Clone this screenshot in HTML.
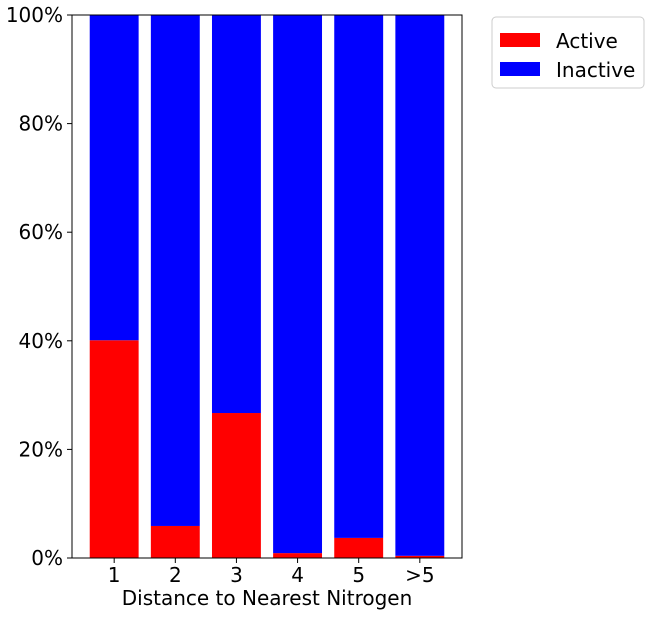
<!DOCTYPE html>
<html><head><meta charset="utf-8"><style>
body{margin:0;background:#fff;}
text{font-family:"DejaVu Sans","Liberation Sans",sans-serif;}
</style></head><body>
<svg id="chart" width="650" height="614" xmlns="http://www.w3.org/2000/svg">
<g id="bars"></g>
<g id="axes"></g>
<g>
<rect x="492" y="17" width="152" height="71" rx="4" fill="#fff" stroke="#ccc"/>
<rect x="500" y="33" width="40" height="14" fill="#ff0000"/>
<text x="556" y="48" font-size="20">Active</text>
<rect x="500" y="62" width="40" height="14" fill="#0000ff"/>
<text x="556" y="77" font-size="20">Inactive</text>
</g>
<text x="267" y="605" font-size="20" text-anchor="middle">Distance to Nearest Nitrogen</text>
</svg>
<script>
const categories=["1","2","3","4","5",">5"];
const activePct=[40.1,5.9,26.7,0.9,3.7,0.4];
const yTicks=[0,20,40,60,80,100];
const L=72,R=462,T=15,B=558;
const xmin=-0.69,xmax=5.69;
const xs=i=>L+(i-xmin)/(xmax-xmin)*(R-L);
const ys=v=>B-v/100*(B-T);
const bw=0.8*(R-L)/(xmax-xmin);
const NS="http://www.w3.org/2000/svg";
const bars=document.getElementById('bars'),axes=document.getElementById('axes');
function mk(tag,attrs,parent){const e=document.createElementNS(NS,tag);for(const k in attrs)e.setAttribute(k,attrs[k]);parent.appendChild(e);return e;}
categories.forEach((c,i)=>{
 const a=mk('rect',{x:xs(i)-bw/2,y:ys(activePct[i]),width:bw,height:ys(0)-ys(activePct[i]),fill:'#ff0000'},bars);
 
 
 const b=mk('rect',{x:xs(i)-bw/2,y:ys(100),width:bw,height:ys(activePct[i])-ys(100),fill:'#0000ff'},bars);
 
 
 mk('line',{x1:xs(i),x2:xs(i),y1:B,y2:B+5,stroke:'#000'},axes);
 const t=mk('text',{x:xs(i),y:B+24,'font-size':20,'text-anchor':'middle'},axes);
 t.textContent=c;
 
 
});
yTicks.forEach(v=>{
 mk('line',{x1:L-5,x2:L,y1:ys(v),y2:ys(v),stroke:'#000'},axes);
 const t=mk('text',{x:L-9,y:ys(v)+7,'font-size':20,'text-anchor':'end'},axes);
 t.textContent=v+'%';
 
 
});
const f=mk('rect',{x:L,y:T,width:R-L,height:B-T,fill:'none',stroke:'#000','stroke-width':1},axes);


</script>
</body></html>
